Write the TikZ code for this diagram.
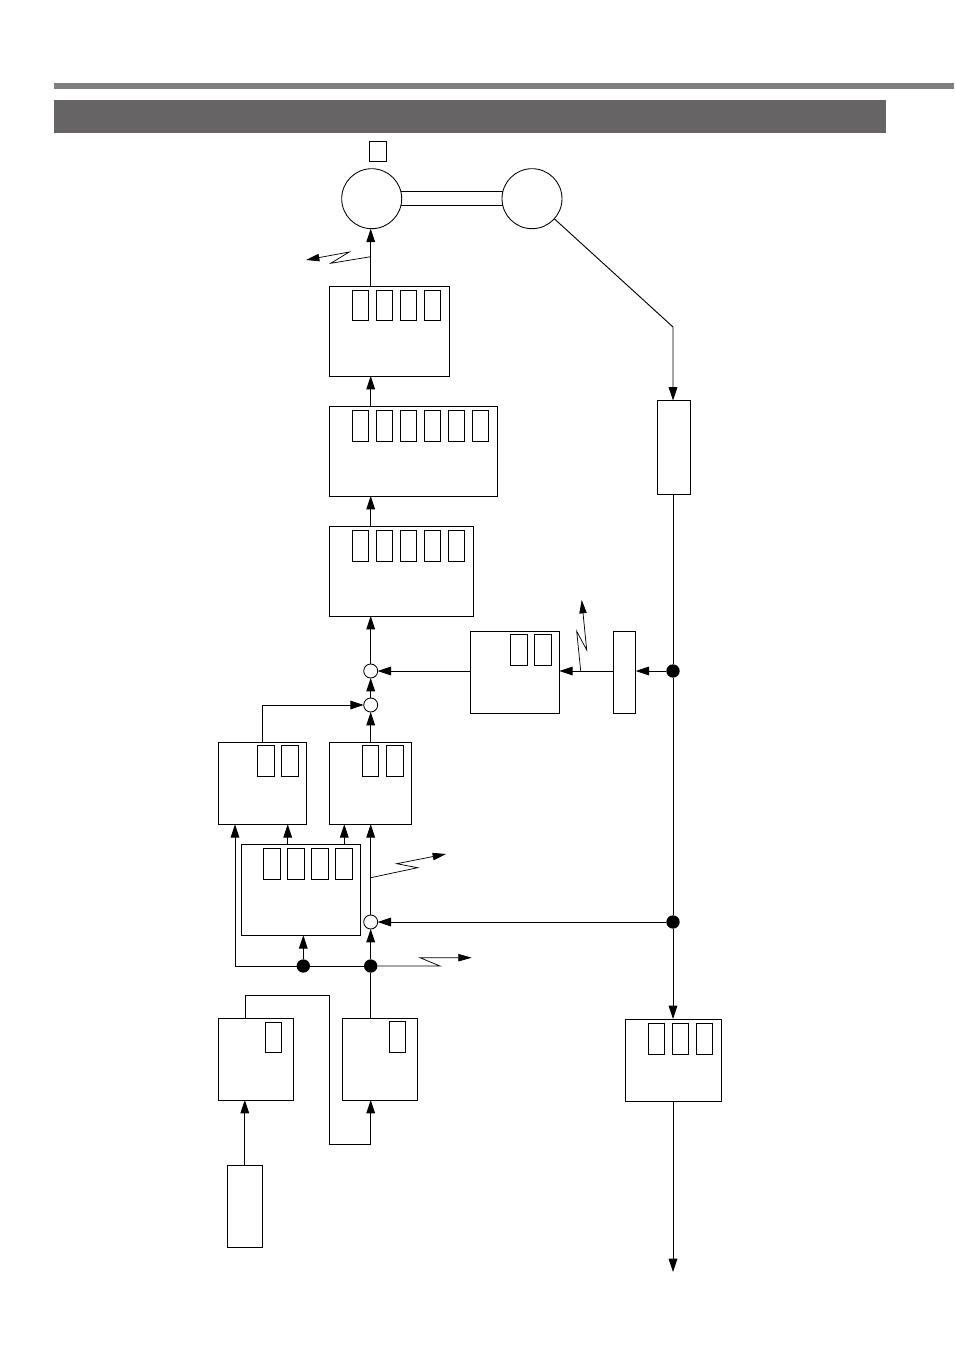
\documentclass[tikz,border=0pt]{standalone}
\usetikzlibrary{arrows.meta}
\tikzset{
  blk/.style={draw=black,fill=white,line width=0.65pt,inner sep=0pt,outer sep=0pt},
  cell/.style={blk,line width=0.6pt},
  hub/.style={circle,draw=black,fill=white,line width=0.65pt,inner sep=0pt,outer sep=0pt,minimum size=10.5pt},
  bigc/.style={circle,draw=black,fill=white,line width=0.65pt,inner sep=0pt,outer sep=0pt,minimum size=45pt},
  dot/.style={circle,fill=black,draw=none,inner sep=0pt,outer sep=0pt,minimum size=10pt},
  flow/.style={line width=0.7pt,draw=black,-{Triangle[length=10pt,width=6.5pt]}},
  plain/.style={line width=0.7pt,draw=black},
  bolt/.style={line width=0.55pt,draw=black,-{Triangle[length=10pt,width=5.5pt]}}
}
\newcommand{\bx}[6][blk]{\node[#1,minimum width={(#5-#3)*0.75pt},minimum height={(#6-#4)*0.75pt}] (#2) at ({(#3+#5)/2},{(#4+#6)/2}) {};}
\begin{document}
\begin{tikzpicture}[x=0.75pt,y=-0.75pt]
\useasboundingbox (0,0) rectangle (954,1351);
\fill[white] (0,0) rectangle (954,1351);
\fill[black!50] (54,83) rectangle (954,89);
\fill[fill={rgb,255:red,102;green,100;blue,100}] (54,100) rectangle (886,133.5);

\coordinate (spine) at (370.7,0);
\coordinate (rail) at (673,0);

% circles
\node[bigc] (cl) at (371.7,198.7) {};
\node[bigc] (cr) at (532,198.7) {};
\bx[cell]{sq}{369.3}{141.3}{386.7}{161.3}

% stacked blocks
\bx{b1}{329.5}{286}{449}{376}
\foreach \n/\x in {a/352.3,b/376.3,c/400.3,d/424.3}{\bx[cell]{b1\n}{\x}{290}{\x+16.5}{320.7}}
\bx{b2}{329.5}{406}{497}{496}
\foreach \n/\x in {a/352.3,b/376.3,c/400.3,d/424.3,e/448.3,f/472.3}{\bx[cell]{b2\n}{\x}{410}{\x+16.5}{441}}
\bx{b3}{329.5}{526}{473}{616}
\foreach \n/\x in {a/352.3,b/376.3,c/400.3,d/424.3,e/448.3}{\bx[cell]{b3\n}{\x}{530}{\x+16.5}{561}}

% right side blocks
\bx{rt}{657}{400.5}{690}{494.5}
\bx{b4}{470.7}{631.3}{559.3}{713.3}
\bx[cell]{b4a}{510.3}{634.7}{527}{665.7}
\bx[cell]{b4b}{534.3}{634.7}{551.3}{665.7}
\bx{b5}{613.7}{631.3}{635.7}{713.3}
\bx{b12}{625.5}{1019}{721}{1101}
\foreach \n/\x in {a/648,b/672,c/696}{\bx[cell]{b12\n}{\x}{1023}{\x+16.5}{1054}}

% lower blocks
\bx{b6}{218.3}{742.3}{306.7}{824.3}
\bx[cell]{b6a}{257.7}{745.7}{274.7}{776.7}
\bx[cell]{b6b}{281.7}{745.7}{298.7}{776.7}
\bx{b7}{329.3}{742.3}{411.3}{824.3}
\bx[cell]{b7a}{362.3}{745.7}{378.3}{776.7}
\bx[cell]{b7b}{386.3}{745.7}{403}{776.7}
\bx{b8}{241}{844.7}{360.3}{935.3}
\foreach \n/\x in {a/263.3,b/287.5,c/311.7,d/335.7}{\bx[cell]{b8\n}{\x}{848.3}{\x+17}{879.3}}
\bx{b9}{218.3}{1018.3}{293.3}{1100}
\bx[cell]{b9a}{265.3}{1022.3}{281.7}{1052.3}
\bx{b10}{342.7}{1018.3}{417.7}{1100}
\bx[cell]{b10a}{389.3}{1021.7}{405.7}{1052.7}
\bx{b11}{227.3}{1165.3}{262.3}{1247.3}

% hubs and dots
\node[hub] (h1) at (370.7,671) {};
\node[hub] (h2) at (370.7,705) {};
\node[hub] (h3) at (370.7,922) {};
\node[dot] (d1) at (673,671) {};
\node[dot] (d2) at (673,922) {};
\node[dot] (d3) at (303.3,966) {};
\node[dot] (d4) at (370.7,966) {};

% free-end and bend coordinates
\coordinate (railbend) at (673,327);
\coordinate (end) at (673,1272);
\coordinate (lft) at (235,966);
\coordinate (j1) at (245,995.7);
\coordinate (j2) at (329.7,995.7);
\coordinate (j3) at (329.7,1144.7);
\coordinate (j4) at (370.7,1144.7);
\coordinate (k1) at (262.3,705);
\coordinate (t1) at (287.7,0);
\coordinate (t2) at (344.3,0);

% shaft between circles
\draw[plain] (cl.13) -- (cr.167);
\draw[plain] (cl.-13) -- (cr.193);

% main stack
\draw[flow] (b1.north -| spine) -- (cl.south -| spine);
\draw[flow] (b2.north -| spine) -- (b1.south -| spine);
\draw[flow] (b3.north -| spine) -- (b2.south -| spine);
\draw[flow] (h1) -- (b3.south -| spine);
\draw[flow] (h2) -- (h1);
\draw[flow] (b7.north -| spine) -- (h2);
\draw[flow] (b6.north -| k1) -- (k1) -- (h2);
\draw[flow] (h3) -- (b7.south -| spine);
\draw[flow] (d4) -- (h3);

% right rail
\draw[flow] (cr.-42) -- (railbend) -- (rt.north -| rail);
\draw[plain] (rt.south -| rail) -- (d1);
\draw[plain] (d1) -- (d2);
\draw[flow] (d2) -- (b12.north -| rail);
\draw[flow] (b12.south -| rail) -- (end);
\draw[flow] (d1) -- (b5.east |- d1);
\draw[flow] (b5.west |- d1) -- (b4.east |- d1);
\draw[flow] (b4.west |- h1) -- (h1);
\draw[flow] (d2) -- (h3);

% lower network
\draw[flow] (d3) -- (b8.south -| d3);
\draw[plain] (d3) -- (d4);
\draw[flow] (d3) -- (lft) -- (lft |- b6.south);
\draw[flow] (b8.north -| t1) -- (b6.south -| t1);
\draw[flow] (b8.north -| t2) -- (b7.south -| t2);
\draw[plain] (b10.north -| d4) -- (d4);
\draw[plain] (b9.north -| j1) -- (j1) -- (j2) -- (j3) -- (j4);
\draw[flow] (j4) -- (b10.south -| j4);
\draw[flow] (b11.north) -- (b9.south -| b11.north);

% zigzag leaders
\coordinate (z1s) at (370.7,256.7);
\coordinate (z1t) at (306,260);
\draw[bolt] (z1s) -- (330.7,263.3) -- (349.3,252) -- (z1t);
\coordinate (z2s) at (580.7,671);
\coordinate (z2t) at (581.7,600);
\draw[bolt] (z2s) -- (576.7,631.3) -- (586.7,650) -- (z2t);
\coordinate (z3s) at (370.7,877.7);
\coordinate (z3t) at (446,854);
\draw[bolt] (z3s) -- (417.7,867.7) -- (396.7,863.7) -- (z3t);
\coordinate (z4t) at (471.7,957.7);
\draw[bolt] (d4) -- (440,966) -- (420,957.7) -- (z4t);
\end{tikzpicture}
\end{document}
